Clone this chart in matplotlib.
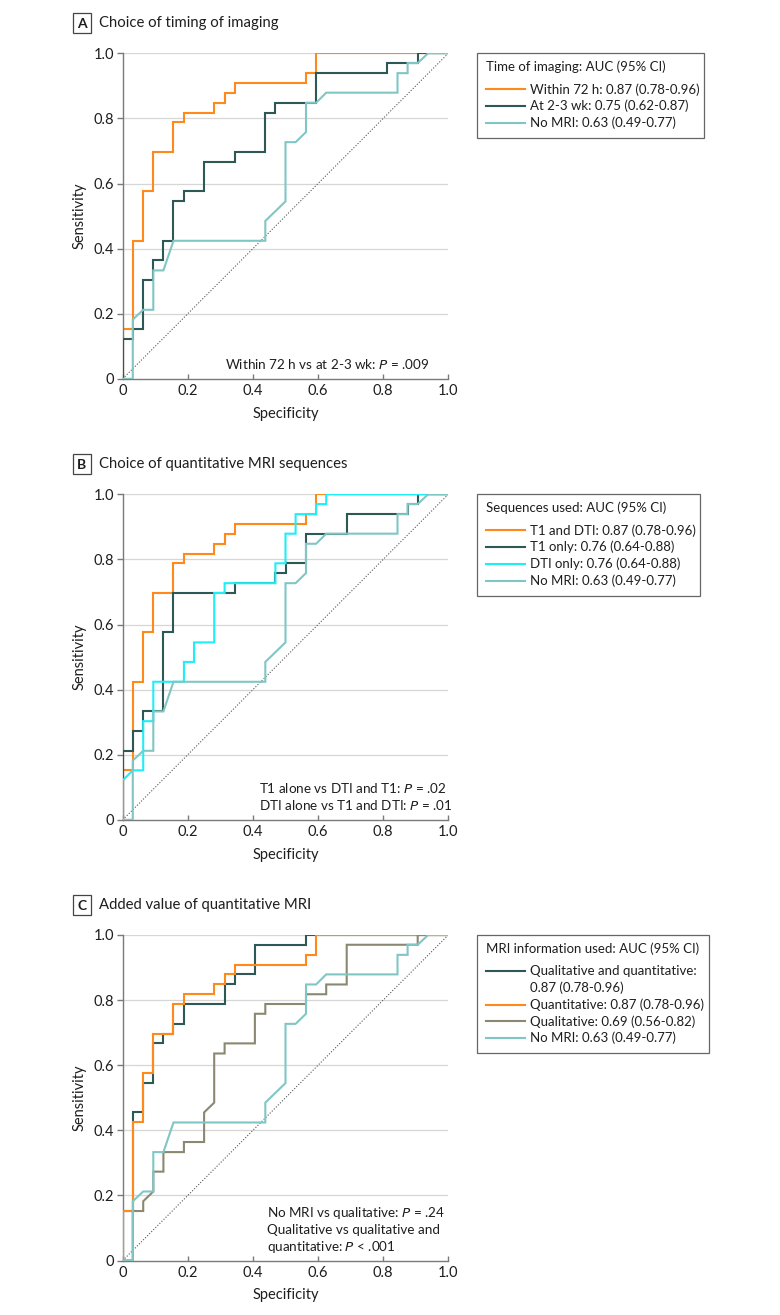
import matplotlib
matplotlib.use("Agg")
import matplotlib.pyplot as plt
from matplotlib.patches import Rectangle
from matplotlib.lines import Line2D

plt.rcParams['font.family'] = ['Lato', 'DejaVu Sans']

# ---------------- data (x = 1 - specificity as drawn, y = sensitivity) ----------------
quant_x = [0, 0, 0.031, 0.031, 0.063, 0.063, 0.094, 0.094, 0.156, 0.156, 0.188, 0.188,
           0.281, 0.281, 0.313, 0.313, 0.344, 0.344, 0.563, 0.563, 0.594, 0.594, 1.0]
quant_y = [0, 0.152, 0.152, 0.424, 0.424, 0.576, 0.576, 0.697, 0.697, 0.788, 0.788, 0.818,
           0.818, 0.848, 0.848, 0.879, 0.879, 0.909, 0.909, 0.939, 0.939, 1.0, 1.0]

wk23_x = [0, 0, 0.031, 0.031, 0.063, 0.063, 0.094, 0.094, 0.125, 0.125, 0.156, 0.156,
          0.188, 0.188, 0.25, 0.25, 0.344, 0.344, 0.438, 0.438, 0.469, 0.469, 0.594, 0.594,
          0.813, 0.813, 0.906, 0.906, 1.0]
wk23_y = [0, 0.121, 0.121, 0.152, 0.152, 0.303, 0.303, 0.364, 0.364, 0.424, 0.424, 0.545,
          0.545, 0.576, 0.576, 0.667, 0.667, 0.697, 0.697, 0.818, 0.818, 0.848, 0.848, 0.939,
          0.939, 0.970, 0.970, 1.0, 1.0]

nomri_x = [0, 0.031, 0.031, 0.063, 0.094, 0.094, 0.125, 0.156, 0.438, 0.438, 0.5, 0.5,
           0.531, 0.563, 0.563, 0.594, 0.625, 0.844, 0.844, 0.875, 0.875, 0.906, 0.938, 1.0]
nomri_y = [0, 0, 0.182, 0.212, 0.212, 0.333, 0.333, 0.424, 0.424, 0.485, 0.545, 0.727,
           0.727, 0.758, 0.848, 0.848, 0.879, 0.879, 0.939, 0.939, 0.970, 0.970, 1.0, 1.0]

t1_x = [0, 0, 0.031, 0.031, 0.063, 0.063, 0.125, 0.125, 0.156, 0.156, 0.344, 0.344,
        0.469, 0.469, 0.5, 0.5, 0.563, 0.563, 0.688, 0.688, 0.875, 0.875, 0.906, 0.906, 1.0]
t1_y = [0, 0.212, 0.212, 0.273, 0.273, 0.333, 0.333, 0.576, 0.576, 0.697, 0.697, 0.727,
        0.727, 0.758, 0.758, 0.788, 0.788, 0.879, 0.879, 0.939, 0.939, 0.970, 0.970, 1.0, 1.0]

dti_x = [0, 0, 0.031, 0.063, 0.063, 0.094, 0.094, 0.188, 0.188, 0.219, 0.219, 0.281, 0.281,
         0.313, 0.313, 0.469, 0.469, 0.5, 0.5, 0.531, 0.531, 0.594, 0.594, 0.625, 0.625, 1.0]
dti_y = [0, 0.121, 0.152, 0.152, 0.303, 0.303, 0.424, 0.424, 0.485, 0.485, 0.545, 0.545,
         0.697, 0.697, 0.727, 0.727, 0.788, 0.788, 0.879, 0.879, 0.939, 0.939, 0.970, 0.970,
         1.0, 1.0]

qq_x = [0, 0, 0.031, 0.031, 0.063, 0.063, 0.094, 0.094, 0.125, 0.125, 0.156, 0.156,
        0.188, 0.188, 0.313, 0.313, 0.344, 0.344, 0.406, 0.406, 0.563, 0.563, 1.0]
qq_y = [0, 0.152, 0.152, 0.455, 0.455, 0.545, 0.545, 0.667, 0.667, 0.697, 0.697, 0.727,
        0.727, 0.788, 0.788, 0.848, 0.848, 0.879, 0.879, 0.970, 0.970, 1.0, 1.0]

qual_x = [0, 0.031, 0.031, 0.063, 0.063, 0.094, 0.094, 0.125, 0.125, 0.188, 0.188, 0.25,
          0.25, 0.281, 0.281, 0.313, 0.313, 0.406, 0.406, 0.438, 0.438, 0.563, 0.563, 0.625,
          0.625, 0.688, 0.688, 0.906, 0.906, 1.0]
qual_y = [0, 0, 0.152, 0.152, 0.182, 0.212, 0.273, 0.273, 0.333, 0.333, 0.364, 0.364,
          0.455, 0.485, 0.636, 0.636, 0.667, 0.667, 0.758, 0.758, 0.788, 0.788, 0.818, 0.818,
          0.848, 0.848, 0.970, 0.970, 1.0, 1.0]

ticks = [0, 0.2, 0.4, 0.6, 0.8, 1.0]
tick_labels = ["0", "0.2", "0.4", "0.6", "0.8", "1.0"]

ORANGE = "#FF8A1C"
DARK = "#2E5856"
LIGHT = "#80C6C4"
CYAN = "#1EEFF7"
OLIVE = "#8A8870"
TEXT = "#1e1e1e"

panels = [
    dict(letter="A", title="Choice of timing of imaging",
         curves=[(quant_x, quant_y, ORANGE, "Within 72 h: 0.87 (0.78-0.96)"),
                 (wk23_x, wk23_y, DARK, "At 2-3 wk: 0.75 (0.62-0.87)"),
                 (nomri_x, nomri_y, LIGHT, "No MRI: 0.63 (0.49-0.77)")],
         legend_title="Time of imaging: AUC (95% CI)",
         notes=["Within 72 h vs at 2-3 wk: $\\it{P}$ = .009"],
         note_x=0.314, top=53.3, leg_w=227.6),
    dict(letter="B", title="Choice of quantitative MRI sequences",
         curves=[(quant_x, quant_y, ORANGE, "T1 and DTI: 0.87 (0.78-0.96)"),
                 (t1_x, t1_y, DARK, "T1 only: 0.76 (0.64-0.88)"),
                 (dti_x, dti_y, CYAN, "DTI only: 0.76 (0.64-0.88)"),
                 (nomri_x, nomri_y, LIGHT, "No MRI: 0.63 (0.49-0.77)")],
         legend_title="Sequences used: AUC (95% CI)",
         notes=["T1 alone vs DTI and T1: $\\it{P}$ = .02",
                "DTI alone vs T1 and DTI: $\\it{P}$ = .01"],
         note_x=0.419, top=494.3, leg_w=223.3),
    dict(letter="C", title="Added value of quantitative MRI",
         curves=[(qq_x, qq_y, DARK, "Qualitative and quantitative:\n0.87 (0.78-0.96)"),
                 (quant_x, quant_y, ORANGE, "Quantitative: 0.87 (0.78-0.96)"),
                 (qual_x, qual_y, OLIVE, "Qualitative: 0.69 (0.56-0.82)"),
                 (nomri_x, nomri_y, LIGHT, "No MRI: 0.63 (0.49-0.77)")],
         legend_title="MRI information used: AUC (95% CI)",
         notes=["No MRI vs qualitative: $\\it{P}$ = .24",
                "Qualitative vs qualitative and",
                "quantitative: $\\it{P}$ < .001"],
         note_x=0.444, top=935.0, leg_w=232.6),
]

W, H = 780, 1315
fig = plt.figure(figsize=(W / 100, H / 100), dpi=100)


def fx(px):
    return px / W


def fy(py):
    return 1 - py / H


AX_LEFT, AX_RIGHT = 122.7, 448.3
AX_H = 325.5
SPINE = "#7a7a7a"
LINE_STEP = 16.8
LEG_FS = 9.5

for p in panels:
    top = p["top"]
    ax = fig.add_axes([fx(AX_LEFT), fy(top + AX_H), (AX_RIGHT - AX_LEFT) / W, AX_H / H])
    ax.set_xlim(0, 1)
    ax.set_ylim(0, 1)
    for yv in ticks[1:]:
        ax.axhline(yv, color="#d6d6d6", lw=0.9, zorder=0)
    ax.plot([0, 1], [0, 1], color="#555555", lw=0.8, linestyle=(0, (1, 1.6)), zorder=1)
    for i, (xs, ys, col, lab) in enumerate(p["curves"]):
        ax.plot(xs, ys, color=col, lw=1.5, label=lab, zorder=2 + i,
                solid_joinstyle="miter", solid_capstyle="butt")
    for s in ("top", "right"):
        ax.spines[s].set_visible(False)
    for s in ("left", "bottom"):
        ax.spines[s].set_color(SPINE)
        ax.spines[s].set_linewidth(1.0)
    ax.set_xticks(ticks)
    ax.set_xticklabels(tick_labels)
    ax.set_yticks(ticks)
    ax.set_yticklabels(tick_labels)
    ax.tick_params(axis="x", direction="in", length=3.5, width=1.0, colors=SPINE,
                   labelcolor=TEXT, labelsize=10.5, pad=4)
    ax.tick_params(axis="y", direction="out", length=4.5, width=1.0, colors=SPINE,
                   labelcolor=TEXT, labelsize=10.5, pad=1.5)
    ax.set_xlabel("Specificity", fontsize=10.5, color=TEXT, labelpad=6)
    ax.set_ylabel("Sensitivity", fontsize=10.5, color=TEXT, labelpad=5)

    # annotation lines (bottom right of plot)
    n = len(p["notes"])
    for k, line in enumerate(p["notes"]):
        yb = 0.029 + 0.053 * (n - 1 - k)
        ax.text(p["note_x"], yb, line, fontsize=9.7, color=TEXT,
                ha="left", va="baseline", zorder=10)

    # panel letter box + title
    cy = top - 30
    fig.patches.append(Rectangle((fx(72.7), fy(cy + 10)), 18.5 / W, 20 / H,
                                 transform=fig.transFigure, fill=False,
                                 edgecolor="#444444", lw=0.9))
    fig.text(fx(81.9), fy(cy + 0.5), p["letter"], fontsize=10, fontweight="bold",
             ha="center", va="center", color=TEXT)
    fig.text(fx(99.3), fy(cy), p["title"], fontsize=10.7, ha="left", va="center",
             color=TEXT)

    # legend (drawn as a boxed key to the right of the plot)
    lx0 = 476.7
    y = top + 13.4
    fig.text(fx(486), fy(y), p["legend_title"], fontsize=LEG_FS, ha="left", va="center",
             color=TEXT)
    y += 22.6
    for xs, ys, col, lab in p["curves"]:
        fig.add_artist(Line2D([fx(485.7), fx(525)], [fy(y), fy(y)], color=col, lw=1.5,
                              transform=fig.transFigure))
        for j, part in enumerate(lab.split("\n")):
            fig.text(fx(530), fy(y), part, fontsize=LEG_FS, ha="left", va="center",
                     color=TEXT)
            y += LINE_STEP
    box_h = y - top - 1.5
    fig.patches.append(Rectangle((fx(lx0), fy(top + box_h)), p["leg_w"] / W, box_h / H,
                                 transform=fig.transFigure, fill=False,
                                 edgecolor="#666666", lw=0.9))

fig.savefig("out.png", dpi=100, facecolor="white")
